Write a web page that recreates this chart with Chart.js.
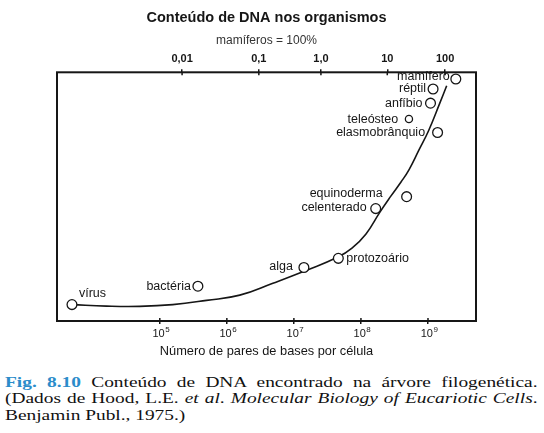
<!DOCTYPE html>
<html>
<head>
<meta charset="utf-8">
<script src="https://cdn.jsdelivr.net/npm/chart.js@4.4.1/dist/chart.umd.min.js"></script>
<style>
    body { margin: 0; background: #fff; width: 544px; height: 433px; overflow: hidden; }
    #wrap { position: relative; width: 544px; height: 365px; }
    #caption {
        font-family: "Liberation Serif", "Times New Roman", serif;
        font-size: 15.5px;
        line-height: 16.3px;
        color: #111;
        margin: 9px 0 0 5px;
        width: 426px;
        transform: scaleX(1.25);
        transform-origin: 0 0;
    }
    #caption .j { text-align: justify; text-align-last: justify; }
    #caption b { color: #2b8cca; }
</style>
</head>
<body>
<div id="wrap"><canvas id="dnaChart"></canvas></div>
<div id="caption">
    <div class="j"><b>Fig. 8.10</b> Conteúdo de DNA encontrado na árvore filogenética.</div>
    <div class="j">(Dados de Hood, L.E. <i>et al</i>. <i>Molecular Biology of Eucariotic Cells</i>.</div>
    <div>Benjamin Publ., 1975.)</div>
</div>
<script>
// organisms and their position (bp per cell, relative height on the unlabeled vertical)
const organisms = ['vírus', 'bactéria', 'alga', 'protozoário', 'celenterado', 'equinoderma',
    'elasmobrânquio', 'teleósteo', 'anfíbio', 'réptil', 'mamífero'];
const basePairs = [4.9e3, 3.7e5, 1.41e7, 4.6e7, 1.66e8, 4.8e8, 1.39e9, 5.2e8, 1.09e9, 1.19e9, 2.6e9];
const relHeight = [6.6, 14.0, 21.5, 25.2, 45.2, 50.0, 75.8, 81.2, 87.6, 93.3, 97.3];

// hand-drawn trend curve
const curveBp = [4.9e3, 1.6e4, 5.0e4, 1.56e5, 4.98e5, 1.56e6, 4.86e6, 1.55e7, 4.54e7, 7.35e7,
    1.19e8, 1.92e8, 2.81e8, 3.96e8, 5.2e8, 7.34e8, 1.02e9, 1.49e9, 1.90e9];
const curveY = [6.6, 6.0, 5.9, 6.6, 8.3, 10.4, 15.2, 20.4, 25.7, 29.3,
    35.0, 43.8, 50.3, 55.9, 60.8, 68.8, 76.5, 87.4, 94.6];

const bottomTicks = [1e5, 1e6, 1e7, 1e8, 1e9];
const bottomTickExp = ['5', '6', '7', '8', '9'];
const topTicks = [2.15e5, 3.0e6, 2.53e7, 2.47e8, 1.8e9];   // "mamíferos = 100%" scale
const topTickLabels = ['0,01', '0,1', '1,0', '10', '100'];

const xMin = 2.93e3;
const xMax = 5.2e9;

// where each name sits relative to its circle (px)
const labelPlacement = [
    { dx: 7, dy: -11, align: 'left' },
    { dx: -7, dy: 0, align: 'right' },
    { dx: -11, dy: -0.6, align: 'right' },
    { dx: 8, dy: 0, align: 'left' },
    { dx: -9, dy: -1, align: 'right' },
    { dx: -24, dy: -3, align: 'right' },
    { dx: -12.5, dy: 0.5, align: 'right' },
    { dx: -10.7, dy: 0, align: 'right' },
    { dx: -8, dy: 0, align: 'right' },
    { dx: -7, dy: 0, align: 'right' },
    { dx: -6, dy: -2, align: 'right' }
];

const ink = '#161616';
const sans = '"Liberation Sans", Arial, Helvetica, sans-serif';
Chart.defaults.font.family = sans;
Chart.defaults.color = ink;

const frameAndLabels = {
    id: 'frameAndLabels',
    afterDatasetsDraw(chart) {
        const { ctx, chartArea: a, scales } = chart;
        ctx.save();
        ctx.strokeStyle = ink;
        ctx.lineWidth = 2;
        ctx.strokeRect(a.left, a.top, a.right - a.left, a.bottom - a.top);

        // tick marks also poke a little inside the frame
        ctx.lineWidth = 1.5;
        ctx.beginPath();
        bottomTicks.forEach(v => {
            const x = scales.x.getPixelForValue(v);
            ctx.moveTo(x, a.bottom);
            ctx.lineTo(x, a.bottom - 3);
        });
        topTicks.forEach(v => {
            const x = scales.x2.getPixelForValue(v);
            ctx.moveTo(x, a.top);
            ctx.lineTo(x, a.top + 3);
        });
        ctx.stroke();

        // 10^n labels with a real raised exponent
        ctx.fillStyle = ink;
        ctx.textBaseline = 'alphabetic';
        ctx.textAlign = 'left';
        bottomTicks.forEach((v, i) => {
            const x = scales.x.getPixelForValue(v);
            ctx.font = '11px ' + sans;
            const w1 = ctx.measureText('10').width;
            ctx.font = '8px ' + sans;
            const w2 = ctx.measureText(bottomTickExp[i]).width;
            const x0 = x - (w1 + w2) / 2 + 1;
            ctx.font = '11px ' + sans;
            ctx.fillText('10', x0, a.bottom + 15.5);
            ctx.font = '8px ' + sans;
            ctx.fillText(bottomTickExp[i], x0 + w1 + 0.5, a.bottom + 10.5);
        });

        const meta = chart.getDatasetMeta(0);
        ctx.font = '12.5px ' + sans;
        ctx.textBaseline = 'middle';
        meta.data.forEach((pt, i) => {
            const p = labelPlacement[i];
            ctx.textAlign = p.align;
            ctx.fillText(organisms[i], pt.x + p.dx, pt.y + p.dy);
        });
        ctx.restore();
    }
};

const ctx = document.getElementById('dnaChart').getContext('2d');
const chart = new Chart(ctx, {
    type: 'line',
    data: {
        datasets: [{
            label: 'organismos',
            data: basePairs.map((bp, i) => ({ x: bp, y: relHeight[i] })),
            showLine: false,
            pointRadius: c => organisms[c.dataIndex] === 'teleósteo' ? 3.6 : 4.9,
            pointBackgroundColor: '#fff',
            pointBorderColor: ink,
            pointBorderWidth: 1.3,
            xAxisID: 'x',
            yAxisID: 'y'
        }, {
            label: 'curva',
            data: curveBp.map((bp, i) => ({ x: bp, y: curveY[i] })),
            borderColor: ink,
            borderWidth: 1.6,
            pointRadius: 0,
            tension: 0.45,
            fill: false,
            xAxisID: 'x',
            yAxisID: 'y'
        }]
    },
    options: {
        responsive: true,
        maintainAspectRatio: false,
        animation: false,
        layout: { padding: { left: 57, right: 68, top: 0, bottom: 0 } },
        plugins: {
            legend: { display: false },
            tooltip: { enabled: false },
            title: {
                display: true,
                text: 'Conteúdo de DNA nos organismos',
                font: { size: 14.5, weight: 'bold' },
                color: ink,
                padding: { top: 9, bottom: 6 }
            },
            subtitle: {
                display: true,
                text: 'mamíferos = 100%',
                font: { size: 12 },
                color: '#333',
                padding: { top: 1.5, bottom: 4 }
            }
        },
        scales: {
            x: {
                type: 'logarithmic',
                position: 'bottom',
                min: xMin,
                max: xMax,
                afterBuildTicks: s => { s.ticks = bottomTicks.map(v => ({ value: v })); },
                afterFit: s => { s.height = 44; },
                ticks: { callback: () => '', maxRotation: 0, autoSkip: false },
                grid: { drawOnChartArea: false, tickLength: 3, color: ink, lineWidth: 1.5 },
                border: { display: false },
                title: {
                    display: true,
                    text: 'Número de pares de bases por célula',
                    font: { size: 12.8 },
                    padding: { top: 0, bottom: 6 }
                }
            },
            x2: {
                type: 'logarithmic',
                position: 'top',
                min: xMin,
                max: xMax,
                afterBuildTicks: s => { s.ticks = topTicks.map(v => ({ value: v })); },
                afterFit: s => { s.height = 20; },
                ticks: {
                    callback: (v, i) => topTickLabels[i],
                    font: { size: 11, weight: 'bold' },
                    padding: 4,
                    maxRotation: 0,
                    autoSkip: false
                },
                grid: { drawOnChartArea: false, tickLength: 3, color: ink, lineWidth: 1.5 },
                border: { display: false }
            },
            y: { display: false, min: 0, max: 100 }
        }
    },
    plugins: [frameAndLabels]
});
</script>
</body>
</html>
